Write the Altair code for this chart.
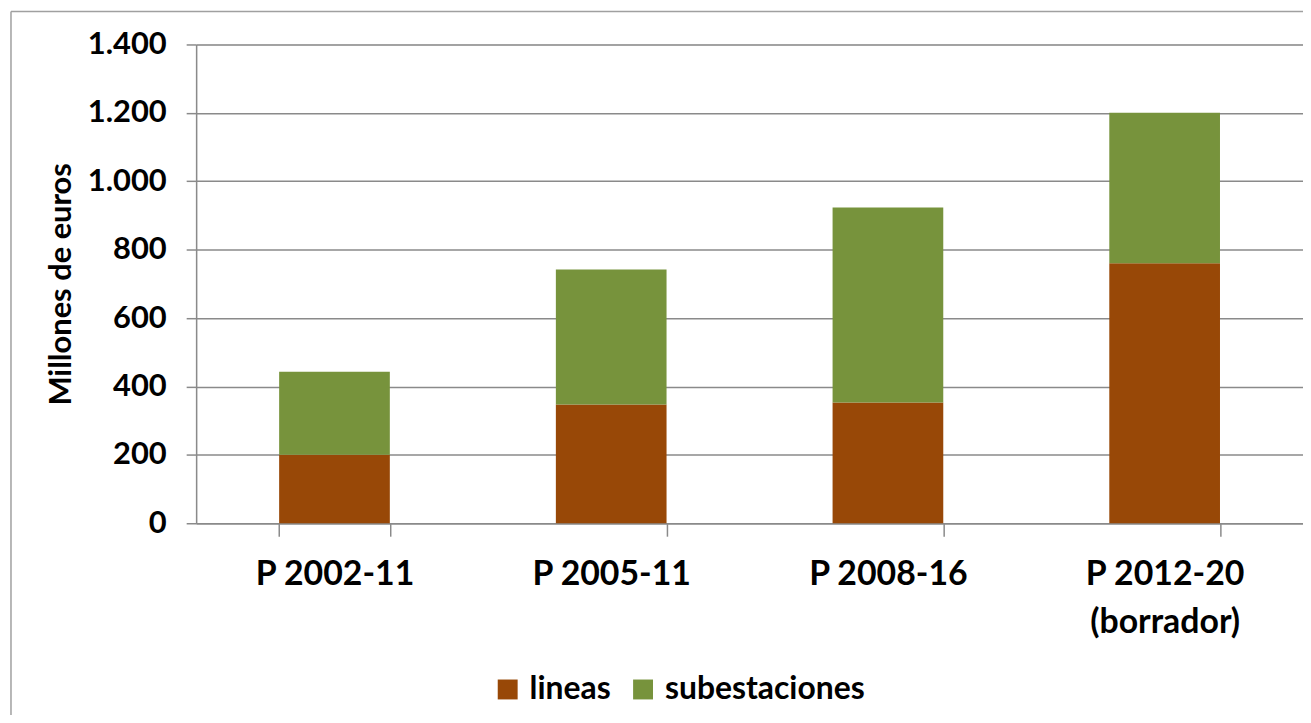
import altair as alt
import pandas as pd

planes = ["P 2002-11", "P 2005-11", "P 2008-16", "P 2012-20|(borrador)"]
lineas = [200, 347, 353, 760]
subestaciones = [243, 395, 570, 440]
series = ["lineas", "subestaciones"]
colors = ["#984807", "#77933C"]
y_ticks = [0, 200, 400, 600, 800, 1000, 1200, 1400]

rows = []
for p, l, s in zip(planes, lineas, subestaciones):
    rows.append({"plan": p, "serie": "lineas", "valor": l})
    rows.append({"plan": p, "serie": "subestaciones", "valor": s})
df = pd.DataFrame(rows)

FONT = "Lato"
W, H = 1112, 481

bars = alt.Chart(df).mark_bar().encode(
    x=alt.X("plan:N", sort=planes,
            scale=alt.Scale(paddingInner=0.6, paddingOuter=0.3),
            axis=alt.Axis(title=None, labelAngle=0, tickBand="extent",
                          labelExpr="split(datum.label, '|')",
                          labelFontSize=34, labelFont=FONT, labelFontWeight="bold",
                          labelColor="black", labelPadding=22, labelLineHeight=48,
                          tickSize=13, tickColor="#8a8a8a", tickWidth=1.5,
                          domainColor="#8a8a8a", domainWidth=1.5, grid=False)),
    y=alt.Y("valor:Q", stack="zero",
            scale=alt.Scale(domain=[0, 1400], nice=False),
            axis=alt.Axis(title="Millones de euros", values=y_ticks,
                          labelExpr="replace(format(datum.value, ',d'), ',', '.')",
                          labelFontSize=31, labelFont=FONT, labelFontWeight="bold",
                          labelColor="black", labelPadding=20,
                          titleFontSize=31, titleFont=FONT, titleFontWeight="bold",
                          titleColor="black", titlePadding=10,
                          tickSize=10, tickColor="#8a8a8a", tickWidth=1.5,
                          domainColor="#8a8a8a", domainWidth=1.5,
                          grid=True, gridColor="#8a8a8a", gridWidth=1.5)),
    color=alt.Color("serie:N", sort=series,
                    scale=alt.Scale(domain=series, range=colors),
                    legend=alt.Legend(title=None, orient="none", direction="horizontal",
                                      legendX=297, legendY=632,
                                      symbolType="square", symbolSize=400,
                                      symbolStrokeWidth=0,
                                      labelFontSize=32, labelFont=FONT,
                                      labelFontWeight="bold", labelColor="black",
                                      labelLimit=400,
                                      labelOffset=6, columnPadding=16)),
    order=alt.Order("serie:N", sort="ascending"),
)

frame_df = pd.DataFrame({"k": [0]})
top_line = alt.Chart(frame_df).mark_rule(color="#a0a0a0", strokeWidth=1.5).encode(
    x=alt.value(-186), x2=alt.value(W + 20), y=alt.value(-33))
left_line = alt.Chart(frame_df).mark_rule(color="#a0a0a0", strokeWidth=1.5).encode(
    x=alt.value(-186), y=alt.value(-33), y2=alt.value(H + 240))

chart = alt.layer(bars, top_line, left_line).properties(
    width=W, height=H,
    padding={"left": 189, "top": 35, "right": 0, "bottom": 191},
    autosize=alt.AutoSizeParams(type="none"),
).configure_view(stroke=None).configure(background="white")

chart.save("out.html", embed_options={"renderer": "svg", "actions": False})
